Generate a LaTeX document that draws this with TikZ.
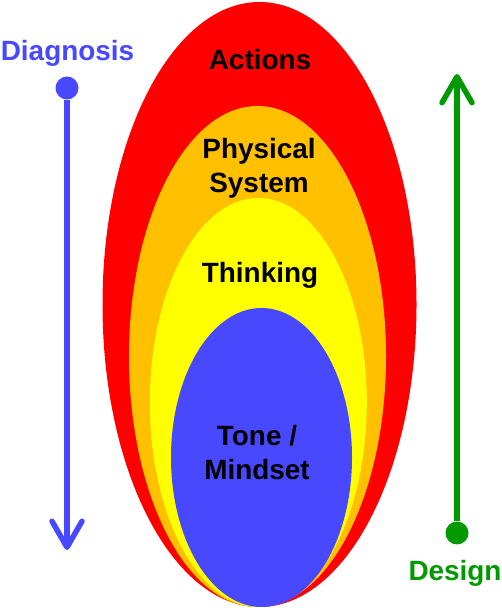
\documentclass[tikz,border=0pt]{standalone}
\usepackage{fontspec}
\setmainfont{Liberation Sans}
\usetikzlibrary{shapes.geometric,arrows.meta}
\definecolor{ringred}{HTML}{FF0000}
\definecolor{ringorange}{HTML}{FFC000}
\definecolor{ringyellow}{HTML}{FFFF00}
\definecolor{ringblue}{HTML}{4848FF}
\definecolor{desgreen}{HTML}{009900}
\begin{document}
\begin{tikzpicture}[x=1bp,y=1bp,
 ring/.style args = {#1/#2/#3}{ellipse, fill=#1, inner sep=0pt, minimum width=#2, minimum height=#3},
 lbl/.style = {font=\fontsize{28}{35}\selectfont\bfseries, anchor=base, align=center},
 knob/.style = {circle, fill=#1, inner sep=0pt, minimum size=23bp},
 every edge/.style = {draw, line width=5.5bp, -{Straight Barb[round,length=26bp,width=30bp]}}]

\useasboundingbox (0,0) rectangle (502,608);

\node(actions) [ring=ringred/314bp/605bp] at (259.5,303.5) {};
\node(physical) [ring=ringorange/257bp/501bp] at (257.5,251.5) {};
\node(thinking) [ring=ringyellow/217bp/409bp] at (258.3,205.5) {};
\node(tone) [ring=ringblue/181bp/299bp] at (261.5,150.5) {};

\node(actionslbl) [lbl] at (260,538) {Actions};
\node(physicallbl) [lbl] at (259,415) {Physical\\System};
\node(thinkinglbl) [lbl] at (260,325) {Thinking};
\node(tonelbl) [lbl] at (257,128) {Tone /\\Mindset};
%
\node(diagdot) [knob=ringblue] at (67,520) {};
\coordinate(diagtip) at (67,58);
\node(diaglbl) [lbl, text=ringblue] at (67.5,547) {Diagnosis};

\node(desdot) [knob=desgreen] at (457,75) {};
\coordinate(destip) at (457,534);
\node(deslbl) [lbl, text=desgreen] at (455,27) {Design};

\path   (diagdot) edge [ringblue] (diagtip)
        (desdot) edge [desgreen] (destip);

\end{tikzpicture}
\end{document}
